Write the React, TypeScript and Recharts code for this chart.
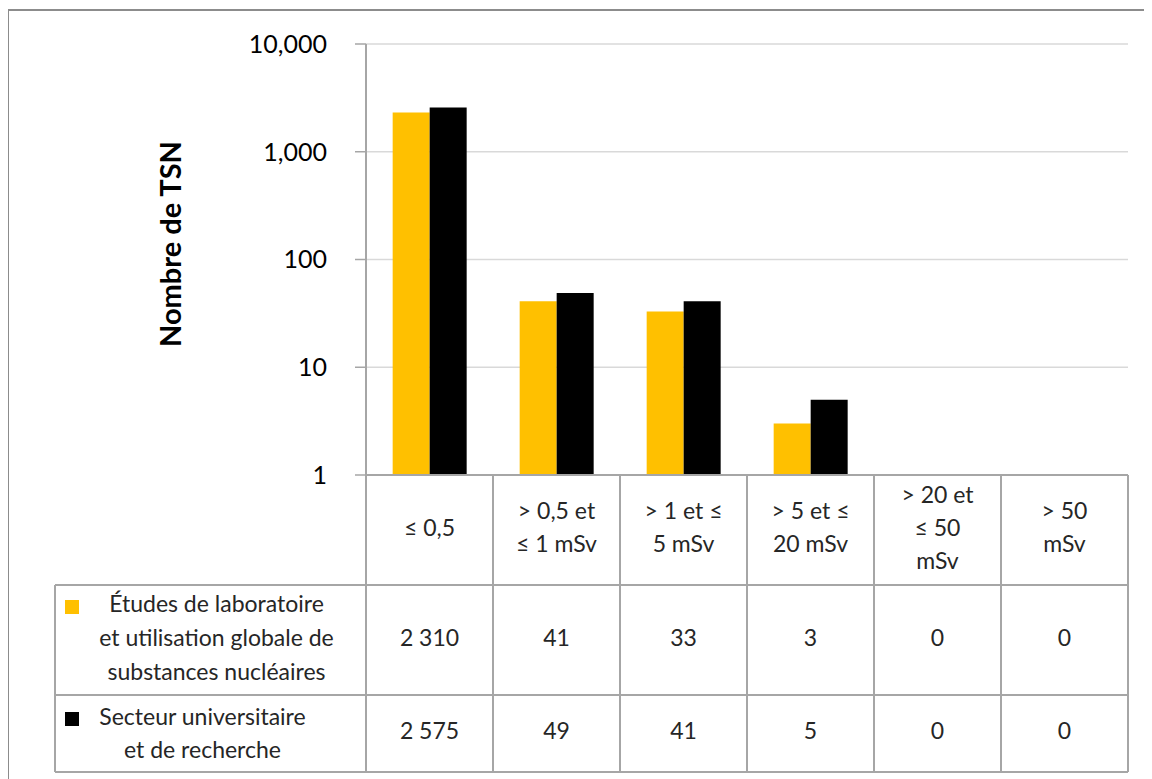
import { BarChart, Bar, XAxis, YAxis, CartesianGrid } from "recharts";

// dose bands (header lines of the table under the chart)
const categories = [
  ["≤ 0,5"],
  ["> 0,5 et", "≤ 1 mSv"],
  ["> 1 et ≤", "5 mSv"],
  ["> 5 et ≤", "20 mSv"],
  ["> 20 et", "≤ 50", "mSv"],
  ["> 50", "mSv"],
];
const etudes = [2310, 41, 33, 3, 0, 0];
const secteur = [2575, 49, 41, 5, 0, 0];
const yTicks = [1, 10, 100, 1000, 10000];
const seriesNames = [
  ["Études de laboratoire", "et utilisation globale de", "substances nucléaires"],
  ["Secteur universitaire", "et de recherche"],
];

const W = 1144;
const H = 771;
const MARGIN = { top: 36, right: 24, left: 0, bottom: 7 };
const Y_W = 358;
const X_H = H - MARGIN.top - MARGIN.bottom - 431;
const PLOT_W = W - MARGIN.left - MARGIN.right - Y_W;
const BAND = PLOT_W / categories.length;
const ROWS = [110, 110, 77];
const LEGEND_X = 47;
const FONT = "Lato, Carlito, Calibri, sans-serif";
const TXT = "#262626";
const GRID = "#a6a6a6";
const COLORS = ["#FFC000", "#000000"];

const fmtTable = (v: number) => String(v).replace(/\B(?=(\d{3})+(?!\d))/g, " ");
const fmtTick = (v: number) => String(v).replace(/\B(?=(\d{3})+(?!\d))/g, ",");

const data = categories.map((c, i) => ({
  name: c.join(" "),
  etudes: etudes[i] > 0 ? etudes[i] : null,
  secteur: secteur[i] > 0 ? secteur[i] : null,
}));

function TableColumn(props: any) {
  const { x, y, index } = props;
  const left = x - BAND / 2;
  const right = x + BAND / 2;
  const bottom = y + ROWS[0] + ROWS[1] + ROWS[2];
  const lines = categories[index];
  const lh = 33;
  const hy = y + ROWS[0] / 2 - ((lines.length - 1) * lh) / 2;
  const tableRight = left + BAND * (categories.length - index);
  const legMid = (LEGEND_X + left) / 2;
  return (
    <g fontFamily={FONT} fontSize={23} fill={TXT}>
      {index === 0 && (
        <g>
          <line x1={left} x2={left} y1={y} y2={bottom} stroke={GRID} strokeWidth={2} />
          <line x1={LEGEND_X} x2={tableRight} y1={y + ROWS[0]} y2={y + ROWS[0]} stroke={GRID} strokeWidth={2} />
          <line x1={LEGEND_X} x2={tableRight} y1={y + ROWS[0] + ROWS[1]} y2={y + ROWS[0] + ROWS[1]} stroke={GRID} strokeWidth={2} />
          <line x1={LEGEND_X} x2={tableRight} y1={bottom} y2={bottom} stroke={GRID} strokeWidth={2} />
          <line x1={LEGEND_X} x2={LEGEND_X} y1={y + ROWS[0]} y2={bottom} stroke={GRID} strokeWidth={2} />
          {/* legend row 1 */}
          <rect x={LEGEND_X + 10} y={y + ROWS[0] + 15} width={14} height={14} fill={COLORS[0]} />
          {seriesNames[0].map((s, k) => (
            <text key={k} x={legMid + 6} y={y + ROWS[0] + 21 + k * 34} textAnchor="middle" dominantBaseline="middle" fill={TXT}>
              {s}
            </text>
          ))}
          {/* legend row 2 */}
          <rect x={LEGEND_X + 10} y={y + ROWS[0] + ROWS[1] + 17} width={14} height={14} fill={COLORS[1]} />
          {seriesNames[1].map((s, k) => (
            <text key={k} x={legMid - 8} y={y + ROWS[0] + ROWS[1] + 24 + k * 33} textAnchor="middle" dominantBaseline="middle" fill={TXT}>
              {s}
            </text>
          ))}
        </g>
      )}
      <line x1={right} x2={right} y1={y} y2={bottom} stroke={GRID} strokeWidth={2} />
      {lines.map((s, k) => (
        <text key={k} x={x} y={hy + k * lh} textAnchor="middle" dominantBaseline="middle" fill={TXT}>
          {s}
        </text>
      ))}
      <text x={x} y={y + ROWS[0] + ROWS[1] / 2} textAnchor="middle" dominantBaseline="middle" fill={TXT}>
        {fmtTable(etudes[index])}
      </text>
      <text x={x} y={y + ROWS[0] + ROWS[1] + ROWS[2] / 2} textAnchor="middle" dominantBaseline="middle" fill={TXT}>
        {fmtTable(secteur[index])}
      </text>
    </g>
  );
}

export default function App() {
  return (
    <div style={{ width: W, height: H, position: "relative", background: "#fff" }}>
      <BarChart width={W} height={H} data={data} margin={MARGIN} barCategoryGap="21%" barGap={0}>
        <rect x={0} y={2} width={W + 20} height={H + 20} fill="none" stroke="#8c8c8c" strokeWidth={2} />
        <CartesianGrid vertical={false} stroke="#d9d9d9" strokeWidth={1.5} />
        <XAxis
          dataKey="name"
          height={X_H}
          interval={0}
          tickSize={0}
          tickMargin={0}
          tickLine={false}
          axisLine={{ stroke: GRID, strokeWidth: 2 }}
          tick={<TableColumn />}
        />
        <YAxis
          width={Y_W}
          scale="log"
          domain={[1, 10000]}
          ticks={yTicks}
          allowDataOverflow
          tickFormatter={fmtTick}
          tickSize={11}
          tickMargin={28}
          axisLine={{ stroke: GRID, strokeWidth: 2 }}
          tickLine={{ stroke: GRID, strokeWidth: 1.5 }}
          tick={{ fontFamily: FONT, fontSize: 25, fill: "#000" }}
          label={{
            value: "Nombre de TSN",
            content: () => (
              <text x={166} y={236} transform="rotate(-90 166 236)" textAnchor="middle" dominantBaseline="middle" fontFamily={FONT} fontSize={29} fontWeight="bold" fill="#000">
                Nombre de TSN
              </text>
            ),
          }}
        />
        <Bar dataKey="etudes" fill={COLORS[0]} isAnimationActive={false} />
        <Bar dataKey="secteur" fill={COLORS[1]} isAnimationActive={false} />
      </BarChart>
    </div>
  );
}
